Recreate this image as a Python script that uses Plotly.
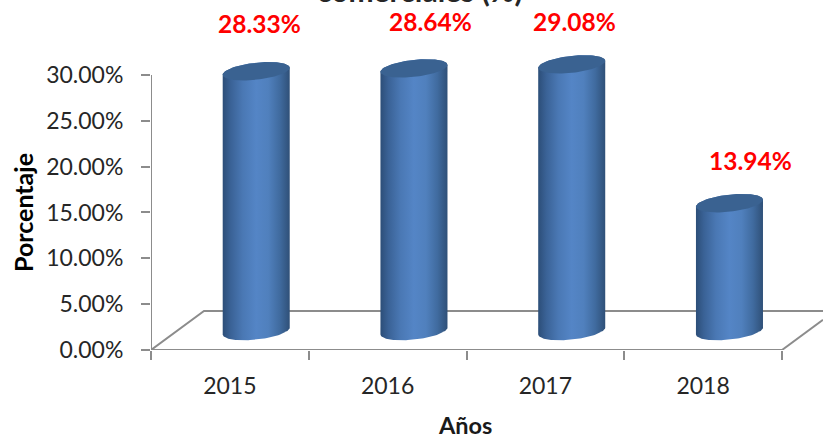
import numpy as np
import plotly.graph_objects as go

years = ["2015", "2016", "2017", "2018"]
values = [28.33, 28.64, 29.08, 13.94]
labels = ["28.33%", "28.64%", "29.08%", "13.94%"]
y_ticks = [0, 5, 10, 15, 20, 25, 30]
y_ticktext = ["0.00%", "5.00%", "10.00%", "15.00%", "20.00%", "25.00%", "30.00%"]

label_dx = [30, 43, 29, 47]
label_dy = [67, 66, 62, 62]

FONT = "Lato, Carlito, Calibri, sans-serif"
GRID = "#8c8c8c"
BASE = 2.07
CX = 0.167
RX = 0.2124
RY = 0.93
TILT = 0.38
XS = np.arange(4)

W, H = 823, 434
L, B = 151, 84
UNIT_X = 157.75   # px per category
UNIT_Y = 9.17     # px per percent
XMAX = -0.5 + (W - L) / UNIT_X
YMAX = (H - B) / UNIT_Y

fig = go.Figure()


def line(xs, ys):
    fig.add_trace(go.Scatter(x=xs, y=ys, mode="lines", line=dict(color=GRID, width=2),
                             cliponaxis=False, hoverinfo="skip", showlegend=False))


# axis lines and floor of the 3D box
line([-0.5, -0.5], [0, 30])
line([-0.5, 3.5], [0, 0])
line([-0.5, -0.164, XMAX], [0, 4.25, 4.25])
line([3.5, XMAX], [0, 3.3])

t = np.linspace(0, 2 * np.pi, 121)
t_low = np.linspace(np.pi, 2 * np.pi, 60)
t_up = np.linspace(0, np.pi, 60)


def ell(cx, cy, th):
    return cx + RX * np.cos(th), cy + TILT * np.cos(th) + RY * np.sin(th)


grad = [
    [0.0, "#2c4e78"], [0.12, "#3a6296"], [0.3, "#4a78b4"], [0.5, "#5485c6"],
    [0.68, "#5080bd"], [0.85, "#406b9f"], [1.0, "#2f5078"],
]

for i, v in zip(XS, values):
    cx = i + CX
    top = v + BASE
    bx, by = ell(cx, BASE, t_low)
    ux, uy = ell(cx, top, t_up)
    fig.add_trace(go.Scatter(
        x=np.r_[bx, ux], y=np.r_[by, uy], mode="lines", fill="toself",
        line=dict(width=0, color="rgba(0,0,0,0)"),
        fillgradient=dict(type="horizontal", colorscale=grad, start=cx - RX, stop=cx + RX),
        hoverinfo="skip", showlegend=False))
    hx, hy = ell(cx, top, t)
    fig.add_trace(go.Scatter(
        x=hx, y=hy, mode="lines", fill="toself", fillcolor="#3a6291",
        line=dict(width=0, color="rgba(0,0,0,0)"),
        hoverinfo="skip", showlegend=False))

# carrier of the year labels
fig.add_trace(go.Scatter(x=list(XS), y=values, mode="markers", xaxis="x2",
                         marker=dict(opacity=0, size=1), hoverinfo="skip", showlegend=False))

for i, (v, lab, dx, dy) in enumerate(zip(values, labels, label_dx, label_dy)):
    fig.add_annotation(x=i, y=v, xref="x", yref="y", text=f"<b>{lab}</b>", showarrow=False,
                       xshift=dx, yshift=dy, font=dict(family=FONT, size=24.5, color="#ff0000"))


def px(xp):
    return (xp - L) / (W - L)


def py(yp):
    return (H - B - yp) / (H - B)


fig.add_annotation(x=px(420), y=py(10), xref="paper", yref="paper", xanchor="center", yanchor="bottom",
                   text="<b>comerciales (%)</b>", showarrow=False,
                   font=dict(family=FONT, size=30, color="#262626"))
fig.add_annotation(x=px(23), y=py(213), xref="paper", yref="paper", xanchor="center", yanchor="middle",
                   text="<b>Porcentaje</b>", textangle=-90, showarrow=False,
                   font=dict(family=FONT, size=25, color="#000000"))
fig.add_annotation(x=px(465), y=py(425), xref="paper", yref="paper", xanchor="center", yanchor="middle",
                   text="<b>Años</b>", showarrow=False,
                   font=dict(family=FONT, size=23.5, color="#1a1a1a"))

fig.update_layout(
    width=W, height=H, margin=dict(l=L, r=0, t=0, b=B, pad=0, autoexpand=False),
    paper_bgcolor="white", plot_bgcolor="white", showlegend=False,
    font=dict(family=FONT, color="#262626"),
    xaxis=dict(type="linear", range=[-0.5, XMAX], tickmode="array", tickvals=[-0.5, 0.5, 1.5, 2.5, 3.5],
               ticktext=["", "", "", "", ""], ticks="outside", ticklen=9, tickwidth=2, tickcolor=GRID,
               showline=False, showgrid=False, zeroline=False),
    xaxis2=dict(type="linear", overlaying="x", anchor="y", side="bottom", range=[-0.5, XMAX],
                tickmode="array", tickvals=list(XS), ticktext=years, ticks="", showline=False,
                showgrid=False, zeroline=False, ticklabelstandoff=20,
                tickfont=dict(family=FONT, size=23, color="#262626")),
    yaxis=dict(range=[0, YMAX], tickmode="array", tickvals=y_ticks, ticktext=y_ticktext, ticks="outside",
               ticklen=9, tickwidth=2, tickcolor=GRID, showline=False,
               showgrid=False, zeroline=False, ticklabelstandoff=13,
               tickfont=dict(family=FONT, size=23, color="#262626")),
)

fig.write_html("out.html", config={"displayModeBar": False},
               post_script="document.body.style.margin='0';document.documentElement.style.overflow='hidden';")
